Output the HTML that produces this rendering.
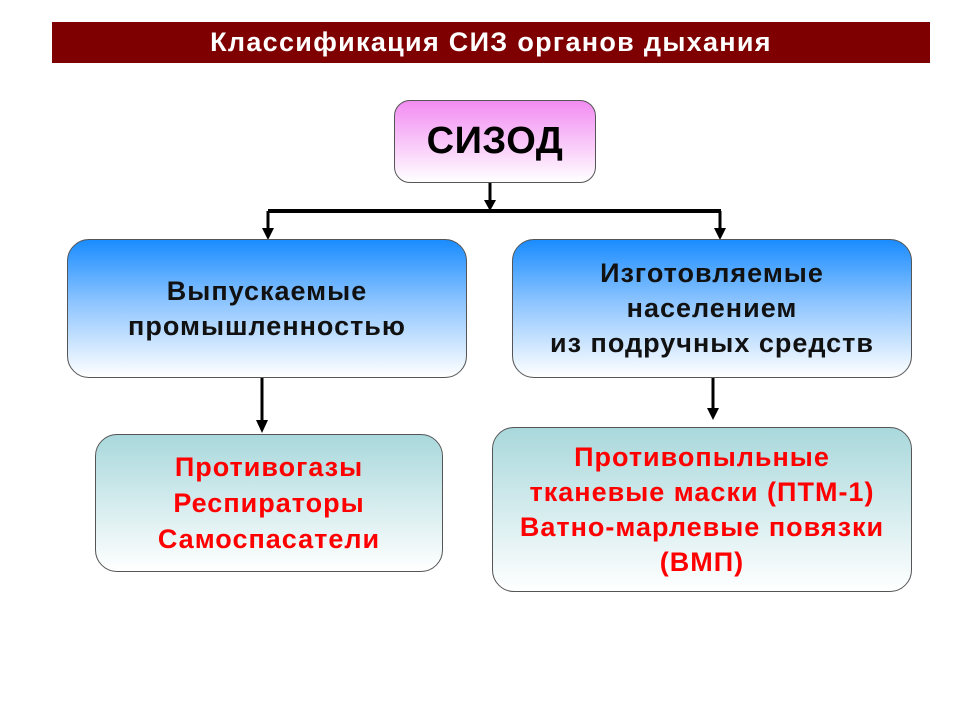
<!DOCTYPE html>
<html><head><meta charset="utf-8"><style>
body{margin:0;width:960px;height:720px;background:#fff;position:relative;overflow:hidden;font-family:"Liberation Sans",sans-serif;font-weight:bold}
.a{position:absolute}
.box{position:absolute;display:flex;align-items:center;justify-content:center;text-align:center;border:1.5px solid #555;border-radius:22px;box-sizing:border-box;white-space:nowrap}
.title{left:52px;top:22px;width:878px;height:41px;background:#7f0000;color:#fff;font-size:27px;letter-spacing:1.3px;display:flex;align-items:center;justify-content:center}
.pink{left:394px;top:100px;width:202px;height:83px;border-radius:16px;background:linear-gradient(#f28cf2,#fff);font-size:38px;letter-spacing:0.5px;color:#000}
.blue{top:239px;width:400px;height:139px;background:linear-gradient(#1a8cff 0%,#8cc4ff 45%,#fff 100%);font-size:27px;letter-spacing:1px;line-height:35px;color:#111}
.teal{background:linear-gradient(#a9d8dc,#fff);font-size:27px;letter-spacing:1px;line-height:36px;color:#f00}
</style></head><body>
<div class="a title">Классификация СИЗ органов дыхания</div>
<div class="box pink">СИЗОД</div>
<svg class="a" style="left:0;top:0" width="960" height="720">
<g stroke="#000" stroke-width="3" fill="none">
<line x1="490" y1="183" x2="490" y2="202"/>
<line x1="268" y1="211" x2="721" y2="211" stroke-width="4"/>
<line x1="268" y1="211" x2="268" y2="230"/>
<line x1="720" y1="211" x2="720" y2="230"/>
<line x1="262" y1="378" x2="262" y2="422"/>
<line x1="713" y1="378" x2="713" y2="410"/>
</g>
<g fill="#000">
<polygon points="484,200 496,200 490,211"/>
<polygon points="262,228 274,228 268,240"/>
<polygon points="714,228 726,228 720,240"/>
<polygon points="256,420 268,420 262,433"/>
<polygon points="707,408 719,408 713,420"/>
</g>
</svg>
<div class="box blue" style="left:67px">Выпускаемые<br>промышленностью</div>
<div class="box blue" style="left:512px">Изготовляемые<br>населением<br>из подручных средств</div>
<div class="box teal" style="left:95px;top:434px;width:348px;height:138px">Противогазы<br>Респираторы<br>Самоспасатели</div>
<div class="box teal" style="left:492px;top:427px;width:420px;height:165px;line-height:35px">Противопыльные<br>тканевые маски (ПТМ-1)<br>Ватно-марлевые повязки<br>(ВМП)</div>
</body></html>
